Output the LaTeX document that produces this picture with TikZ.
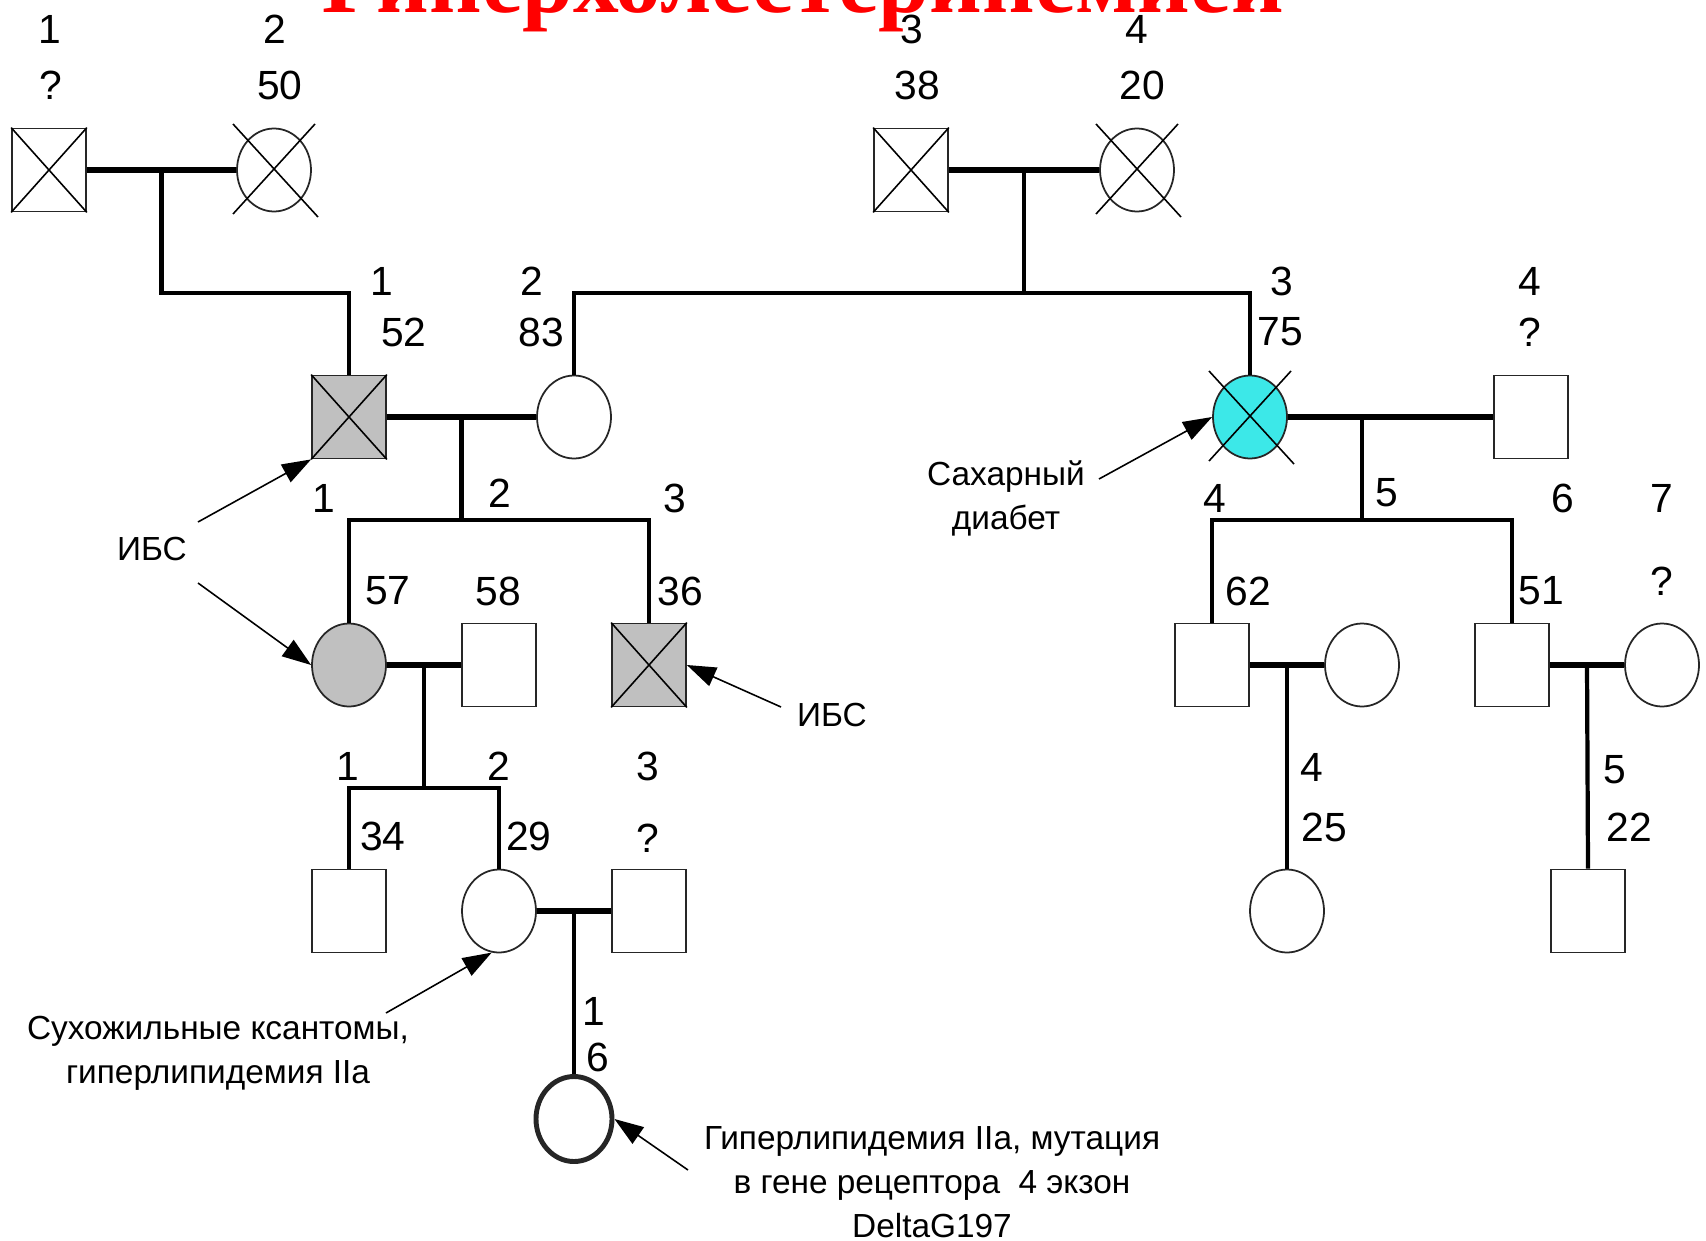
\documentclass[tikz,border=0pt]{standalone}
\usepackage{fontspec}
\setmainfont{Liberation Sans}
\newfontfamily\titlefont{Liberation Serif}
\usepackage{tikz}
\usetikzlibrary{shapes.geometric, arrows.meta, positioning, calc}

\definecolor{sickgray}{RGB}{192,192,192}
\definecolor{diabcyan}{RGB}{60,232,232}

\tikzset{
    person/.style={draw=black!85, line width=0.5pt, fill=white, minimum width=0.74cm, minimum height=0.83cm, inner sep=0pt},
    male/.style={person, rectangle},
    female/.style={person, ellipse},
    marriage/.style={line width=1.6pt},
    descent/.style={line width=1.2pt},
    crossline/.style={line width=0.45pt},
    num/.style={font=\fontsize{11.6}{14}\selectfont, inner sep=0pt},
    note/.style={font=\fontsize{9.5}{12.5}\selectfont, align=center, inner sep=0pt},
    pointer/.style={line width=0.45pt, -{Triangle[length=0.29cm, width=0.2cm]}},
}

\begin{document}
\begin{tikzpicture}
    \useasboundingbox (0,0) rectangle (17.06,12.40);
    \clip (0,0) rectangle (17.06,12.40);

    \node [anchor=base, text=red, font=\titlefont\bfseries\fontsize{26}{30}\selectfont] (title) at (8.03,12.27) {Гиперхолестеринемией};

    % generation I
    \node [male] (I1) at (0.49,10.70) {};
    \node [female] (I2) at (2.74,10.70) {};
    \node [male] (I3) at (9.11,10.70) {};
    \node [female] (I4) at (11.37,10.70) {};

    % generation II
    \node [male, fill=sickgray] (II1) at (3.49,8.23) {};
    \node [female] (II2) at (5.74,8.23) {};
    \node [female, fill=diabcyan] (II3) at (12.50,8.23) {};
    \node [male] (II4) at (15.31,8.23) {};

    % generation III
    \node [female, fill=sickgray] (III1) at (3.49,5.75) {};
    \node [male] (III2) at (4.99,5.75) {};
    \node [male, fill=sickgray] (III3) at (6.49,5.75) {};
    \node [male] (III4) at (12.12,5.75) {};
    \node [female] (III5) at (13.62,5.75) {};
    \node [male] (III6) at (15.12,5.75) {};
    \node [female] (III7) at (16.62,5.75) {};

    % generation IV
    \node [male] (IV1) at (3.49,3.29) {};
    \node [female] (IV2) at (4.99,3.29) {};
    \node [male] (IV3) at (6.49,3.29) {};
    \node [female] (IV4) at (12.87,3.29) {};
    \node [male] (IV5) at (15.88,3.29) {};

    % generation V
    \node [female, line width=1.4pt, minimum width=0.76cm, minimum height=0.85cm] (V1) at (5.74,1.21) {};

    % deceased
    \foreach \p in {I1,I3,II1,III3}
        \draw [crossline] (\p.north west) -- (\p.south east) (\p.north east) -- (\p.south west);
    \foreach \p in {I2,I4,II3}
        \draw [crossline] ($(\p.center)+(-0.41,0.46)$) -- ($(\p.center)+(0.44,-0.47)$)
                          ($(\p.center)+(0.41,0.46)$) -- ($(\p.center)+(-0.41,-0.44)$);

    % marriages
    \draw [marriage] (I1) -- (I2);
    \draw [marriage] (I3) -- (I4);
    \draw [marriage] (II1) -- (II2);
    \draw [marriage] (II3) -- (II4);
    \draw [marriage] (III1) -- (III2);
    \draw [marriage] (III4) -- (III5);
    \draw [marriage] (III6) -- (III7);
    \draw [marriage] (IV2) -- (IV3);

    \coordinate (m1) at ($(I1.east)!0.5!(I2.west)$);
    \coordinate (m2) at ($(I3.east)!0.5!(I4.west)$);
    \coordinate (m3) at ($(II1.east)!0.5!(II2.west)$);
    \coordinate (m4) at (13.62,8.23);
    \coordinate (m5) at ($(III1.east)!0.5!(III2.west)$);
    \coordinate (m6) at ($(III4.east)!0.5!(III5.west)$);
    \coordinate (m7) at ($(III6.east)!0.5!(III7.west)$);
    \coordinate (m8) at ($(IV2.east)!0.5!(IV3.west)$);
    \coordinate (sib1) at (0,9.47);
    \coordinate (sib2) at (0,7.20);
    \coordinate (sib3) at (0,4.52);

    % descent
    \draw [descent] (m1) |- (II1.north |- sib1) -- (II1.north);
    \draw [descent] (II2.north) |- (II3.north |- sib1) -- (II3.north);
    \draw [descent] (m2) -- (m2 |- sib1);
    \draw [descent] (m3) -- (m3 |- sib2);
    \draw [descent] (III1.north) |- (III3.north |- sib2) -- (III3.north);
    \draw [descent] (m4) -- (m4 |- sib2);
    \draw [descent] (III4.north) |- (III6.north |- sib2) -- (III6.north);
    \draw [descent] (m5) -- (m5 |- sib3);
    \draw [descent] (IV1.north) |- (IV2.north |- sib3) -- (IV2.north);
    \draw [descent] (m6) -- (IV4.north);
    \draw [descent] (m7) -- (IV5.north);
    \draw [descent] (m8) -- (V1.north);

    % numbers and ages
    \node [num] (nI1) at (0.50,12.11) {1};
    \node [num] (aI1) at (0.51,11.55) {?};
    \node [num] (nI2) at (2.75,12.11) {2};
    \node [num] (aI2) at (2.80,11.55) {50};
    \node [num] (nI3) at (9.12,12.11) {3};
    \node [num] (aI3) at (9.17,11.55) {38};
    \node [num] (nI4) at (11.37,12.11) {4};
    \node [num] (aI4) at (11.42,11.55) {20};

    \node [num] (nII1) at (3.82,9.59) {1};
    \node [num] (aII1) at (4.04,9.08) {52};
    \node [num] (nII2) at (5.32,9.59) {2};
    \node [num] (aII2) at (5.41,9.08) {83};
    \node [num] (nII3) at (12.82,9.59) {3};
    \node [num] (aII3) at (12.80,9.08) {75};
    \node [num] (nII4) at (15.30,9.59) {4};
    \node [num] (aII4) at (15.30,9.08) {?};

    \node [num] (nIII1) at (3.24,7.42) {1};
    \node [num] (nIII2) at (5.00,7.47) {2};
    \node [num] (nIII3) at (6.75,7.42) {3};
    \node [num] (aIII1) at (3.88,6.49) {57};
    \node [num] (aIII2) at (4.98,6.49) {58};
    \node [num] (aIII3) at (6.80,6.49) {36};
    \node [num] (nIII4) at (12.15,7.42) {4};
    \node [num] (nIII5) at (13.87,7.47) {5};
    \node [num] (nIII6) at (15.63,7.42) {6};
    \node [num] (nIII7) at (16.62,7.42) {7};
    \node [num] (aIII4) at (12.48,6.49) {62};
    \node [num] (aIII6) at (15.41,6.49) {51};
    \node [num] (aIII7) at (16.62,6.59) {?};

    \node [num] (nIV1) at (3.48,4.74) {1};
    \node [num] (nIV2) at (4.99,4.74) {2};
    \node [num] (nIV3) at (6.48,4.74) {3};
    \node [num] (aIV1) at (3.83,4.04) {34};
    \node [num] (aIV2) at (5.29,4.04) {29};
    \node [num] (aIV3) at (6.48,4.02) {?};
    \node [num] (nIV4) at (13.12,4.73) {4};
    \node [num] (aIV4) at (13.24,4.13) {25};
    \node [num] (nIV5) at (16.15,4.70) {5};
    \node [num] (aIV5) at (16.29,4.13) {22};

    \node [num] (nV1) at (5.94,2.29) {1};
    \node [num] (aV1) at (5.98,1.83) {6};

    % notes
    \node [note] (ibs1) at (1.52,6.91) {ИБС};
    \node [note] (ibs2) at (8.32,5.25) {ИБС};
    \node [note] (diab) at (10.06,7.42) {Сахарный\\диабет};
    \node [note] (xanth) at (2.18,1.87) {Сухожильные ксантомы,\\гиперлипидемия IIa};
    \node [note] (mut) at (9.32,0.58) {Гиперлипидемия IIa, мутация\\в гене рецептора\ \ 4 экзон\\DeltaG197};

    \coordinate (t1) at (1.98,7.18);
    \coordinate (t2) at (1.98,6.57);
    \coordinate (t3) at (7.81,5.33);
    \coordinate (t4) at (10.99,7.61);
    \coordinate (t5) at (3.86,2.27);
    \coordinate (t6) at (6.88,0.70);
    \draw [pointer] (t1) -- (II1.south west);
    \draw [pointer] (t2) -- (III1.west);
    \draw [pointer] (t3) -- (III3.east);
    \draw [pointer] (t4) -- (II3.west);
    \draw [pointer] (t5) -- (IV2.-100);
    \draw [pointer] (t6) -- (V1.east);
\end{tikzpicture}
\end{document}
